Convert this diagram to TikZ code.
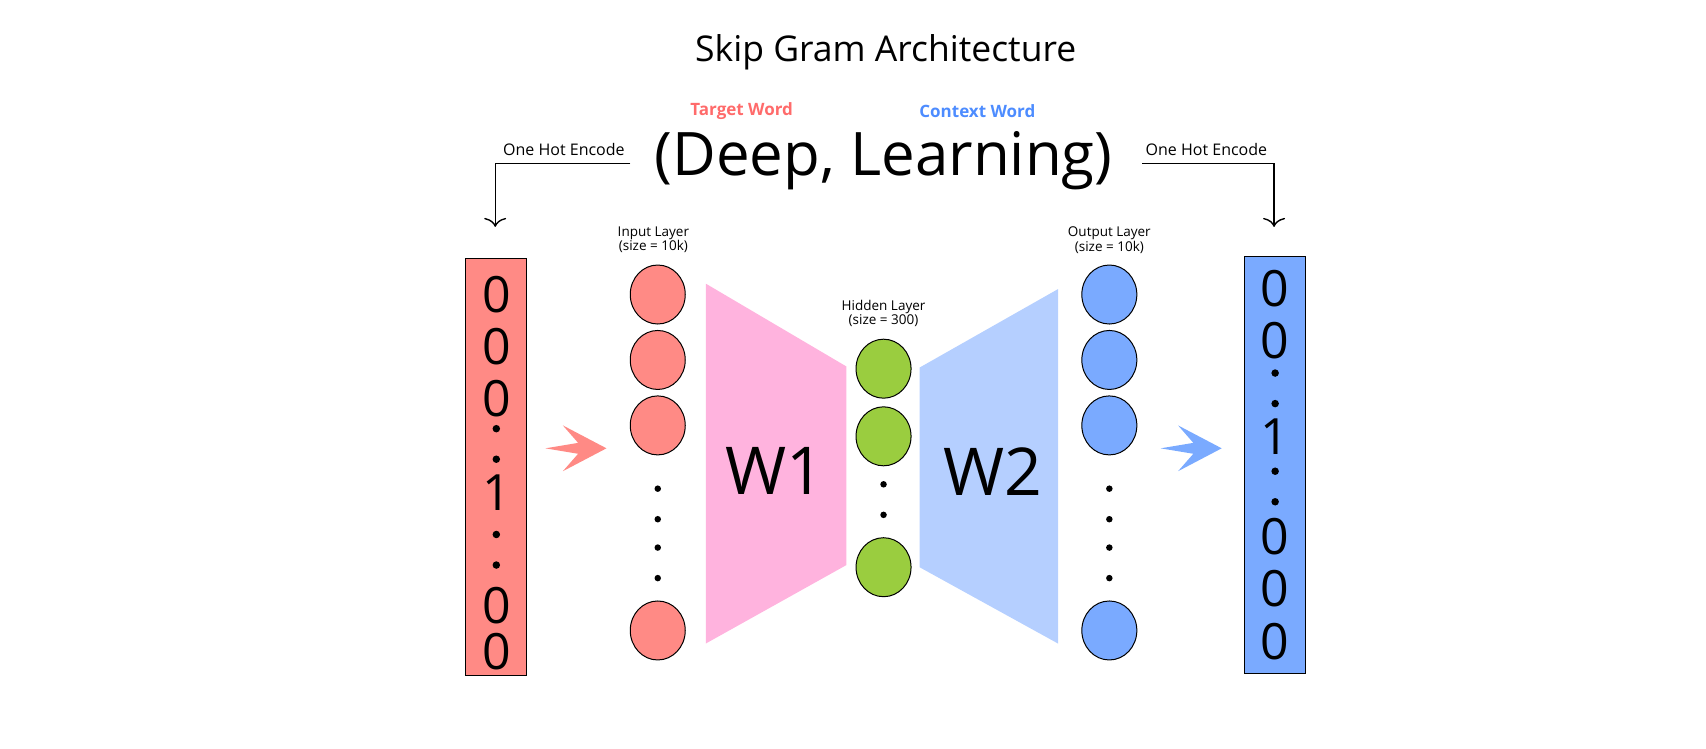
\documentclass[tikz,border=0pt]{standalone}
\usepackage{fontspec}
\setmainfont{Open Sans}
\definecolor{rd}{HTML}{FF8A85}
\definecolor{bl}{HTML}{7AAAFF}
\definecolor{gr}{HTML}{9ACD3F}
\definecolor{pk}{HTML}{FFB3DE}
\definecolor{lb}{HTML}{B5CFFF}
\definecolor{tw}{HTML}{FF6B6B}
\definecolor{cw}{HTML}{4D8CFF}
\begin{document}
\begin{tikzpicture}[x=1.0907pt,y=-1.0907pt,
  neu/.style={ellipse,draw=black,line width=1pt,minimum width=55pt,minimum height=59pt,inner sep=0pt},
  dot/.style={circle,fill=black,inner sep=0pt,minimum size=6.5pt},
  dig/.style={font=\fontsize{50}{50}\selectfont,inner sep=0pt},
  small/.style={font=\fontsize{13.5}{12}\selectfont,align=center,inner sep=0pt},
  enc/.style={draw=black,line width=1.4pt},
  arr/.style={-{To[length=9pt,width=22pt,line width=1.4pt]}}]
\usetikzlibrary{shapes.geometric,arrows.meta}
\useasboundingbox (0,0) rectangle (1564,686);
\node (title) at (812,48) {\fontsize{35.5}{35}\selectfont Skip Gram Architecture};
\node[text=tw] (tw) at (680,102) {\fontsize{17}{17}\selectfont\bfseries Target Word};
\node[text=cw] (cw) at (896,102) {\fontsize{17}{17}\selectfont\bfseries Context Word};
\node (dl) at (810,147) {\fontsize{60}{60}\selectfont (Deep, Learning)};
\node[small,font=\fontsize{16}{16}\selectfont] (ohl) at (517,137) {One Hot Encode};
\node[small,font=\fontsize{16}{16}\selectfont] (ohr) at (1106,137) {One Hot Encode};
\coordinate (l1) at (578,150); \coordinate (l2) at (454,150); \coordinate (l3) at (454,208);
\coordinate (r1) at (1047,150); \coordinate (r2) at (1168,150); \coordinate (r3) at (1168,208);
\draw[enc,arr] (l1) -- (l2) -- (l3);
\draw[enc,arr] (r1) -- (r2) -- (r3);
% vectors
\node[draw=black,line width=1pt,fill=rd,minimum width=61pt,minimum height=417pt,inner sep=0pt] (lv) at (455,428) {};
\node[draw=black,line width=1pt,fill=bl,minimum width=61pt,minimum height=417pt,inner sep=0pt] (rv) at (1169,426) {};
\foreach \y in {270,318,365,555,597} \node[dig] at (455,\y) {0};
\node[dig] at (455,452) {1};
\foreach \y in {393,421,490,518} \node[dot,minimum size=7.5pt] at (455,\y) {};
\foreach \y in {265,312,492,540,588} \node[dig] at (1169,\y) {0};
\node[dig] at (1169,400) {1};
\foreach \y in {342,370,432,460} \node[dot,minimum size=7.5pt] at (1169,\y) {};
% trapezoids
\fill[pk] (647,260) -- (776,336) -- (776,518) -- (647,590) -- cycle;
\fill[lb] (843,337) -- (970,265) -- (970,590) -- (843,520) -- cycle;
\node (w1) at (710,432) {\fontsize{66}{66}\selectfont W1};
\node (w2) at (910,432) {\fontsize{66}{66}\selectfont W2};
% neurons
\foreach \y/\n in {270/a,330/b,390/c,578/d} \node[neu,fill=rd] (i\n) at (603,\y) {};
\foreach \y in {448,476,502,530} \node[dot] at (603,\y) {};
\foreach \y/\n in {338/a,400/b,520/c} \node[neu,fill=gr] (h\n) at (810,\y) {};
\foreach \y in {444,472} \node[dot] at (810,\y) {};
\foreach \y/\n in {270/a,330/b,390/c,578/d} \node[neu,fill=bl] (o\n) at (1017,\y) {};
\foreach \y in {448,476,502,530} \node[dot] at (1017,\y) {};
\node[small] (il) at (599,220) {Input Layer\\(size = 10k)};
\node[small] (hl) at (810,287) {Hidden Layer\\(size = 300)};
\node[small] (ol) at (1017,220) {Output Layer\\(size = 10k)};
% chevron arrows
\fill[rd] (500,411) -- (530,406) -- (516,390) -- (556,411) -- (516,432) -- (530,416) -- cycle;
\fill[bl] (1064,411) -- (1094,406) -- (1080,390) -- (1120,411) -- (1080,432) -- (1094,416) -- cycle;
\end{tikzpicture}
\end{document}
